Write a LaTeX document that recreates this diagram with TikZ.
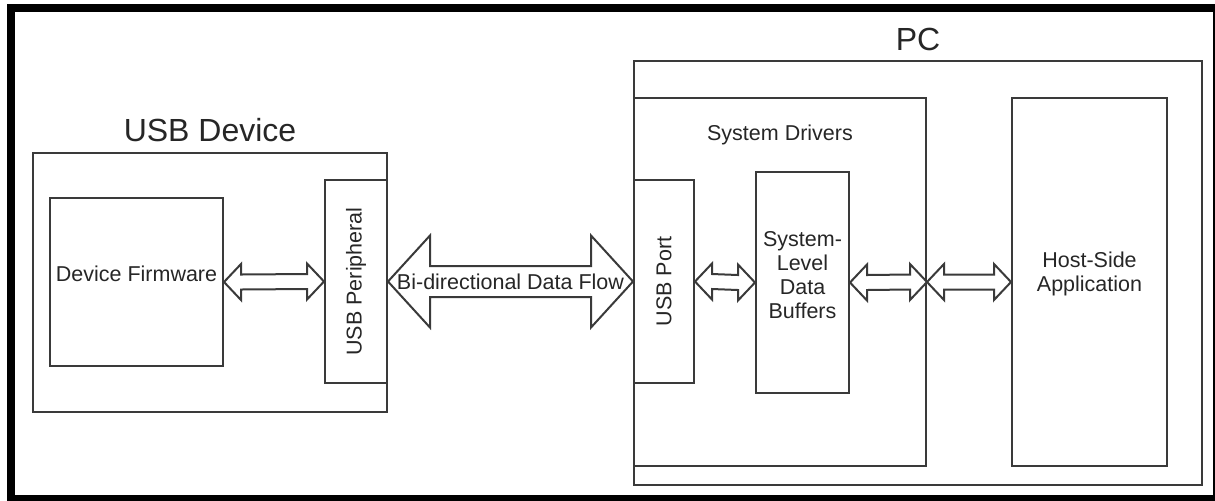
\documentclass[tikz,border=0pt]{standalone}
\usepackage{fontspec}
\setmainfont{Liberation Sans}
\usetikzlibrary{calc, fit, positioning}

\definecolor{linegray}{HTML}{3A3A3A}
\definecolor{textgray}{HTML}{262626}

\tikzset{
  box/.style={draw=linegray, line width=1pt, inner sep=0pt, text=textgray,
    font=\fontsize{10.75}{12}\selectfont, align=center},
  lbl/.style={inner sep=0pt, text=textgray, font=\fontsize{10.75}{12}\selectfont, align=center},
  title/.style={inner sep=0pt, text=textgray, font=\fontsize{16}{18}\selectfont},
  flow/.style={draw=linegray, line width=1pt, fill=white}
}

% block arrow with a head at both ends: from, to, half shaft, half head, head length
\newcommand{\biflow}[5]{%
  \draw[flow] (#1) -- ($(#1)+(#5,-#4)$) -- ($(#1)+(#5,-#3)$) -- ($(#2)+(-#5,-#3)$)
    -- ($(#2)+(-#5,-#4)$) -- (#2) -- ($(#2)+(-#5,#4)$) -- ($(#2)+(-#5,#3)$)
    -- ($(#1)+(#5,#3)$) -- ($(#1)+(#5,#4)$) -- cycle;}

\begin{document}
\begin{tikzpicture}[x=0.5pt, y=-0.5pt]
            \useasboundingbox (0,0) rectangle (1215,500);
            \clip (0,0) rectangle (1215,500);
            \draw[line width=4pt] (10.5,8) rectangle (1217,499);

            % device side
            \node[box, fit={(33,153) (387,412)}] (dev) {};
            \node[title, above=5pt of dev] (devtitle) {USB Device};
            \node[box, fit={(50,198) (223,366)}] (fw) {Device Firmware};
            \node[box, fit={(325,180) (387,383)}] (periph) {};
            \node[lbl, rotate=90] (periphtxt) at (periph) {USB Peripheral};

            % host side
            \node[box, fit={(634,61) (1202,485)}] (pc) {};
            \node[title, above=4.5pt of pc] (pctitle) {PC};
            \node[box, fit={(634,98) (926,466)}] (drv) {};
            \node[lbl, below=14pt of drv.north] (drvtxt) {System Drivers};
            \node[box, fit={(634,180) (694,383)}] (port) {};
            \node[lbl, rotate=90] (porttxt) at (port) {USB Port};
            \node[box, fit={(756,172) (849,393)}] (buf) {System-\\Level\\Data\\Buffers};
            \node[box, fit={(1012,98) (1167,466)}] (host) {Host-Side\\Application};

            % data paths
            \biflow{fw.east}{periph.west}{7.5}{18}{17}
            \biflow{periph.east}{port.west}{15.5}{46}{42}
            \path (periph.east) -- (port.west) node[lbl, midway] (flowtxt) {Bi-directional Data Flow};
            \biflow{port.east}{buf.west}{7.5}{18}{17}
            \biflow{buf.east}{drv.east}{7.5}{18}{17}
            \biflow{drv.east}{host.west}{7.5}{18}{17}
        \end{tikzpicture}
\end{document}
